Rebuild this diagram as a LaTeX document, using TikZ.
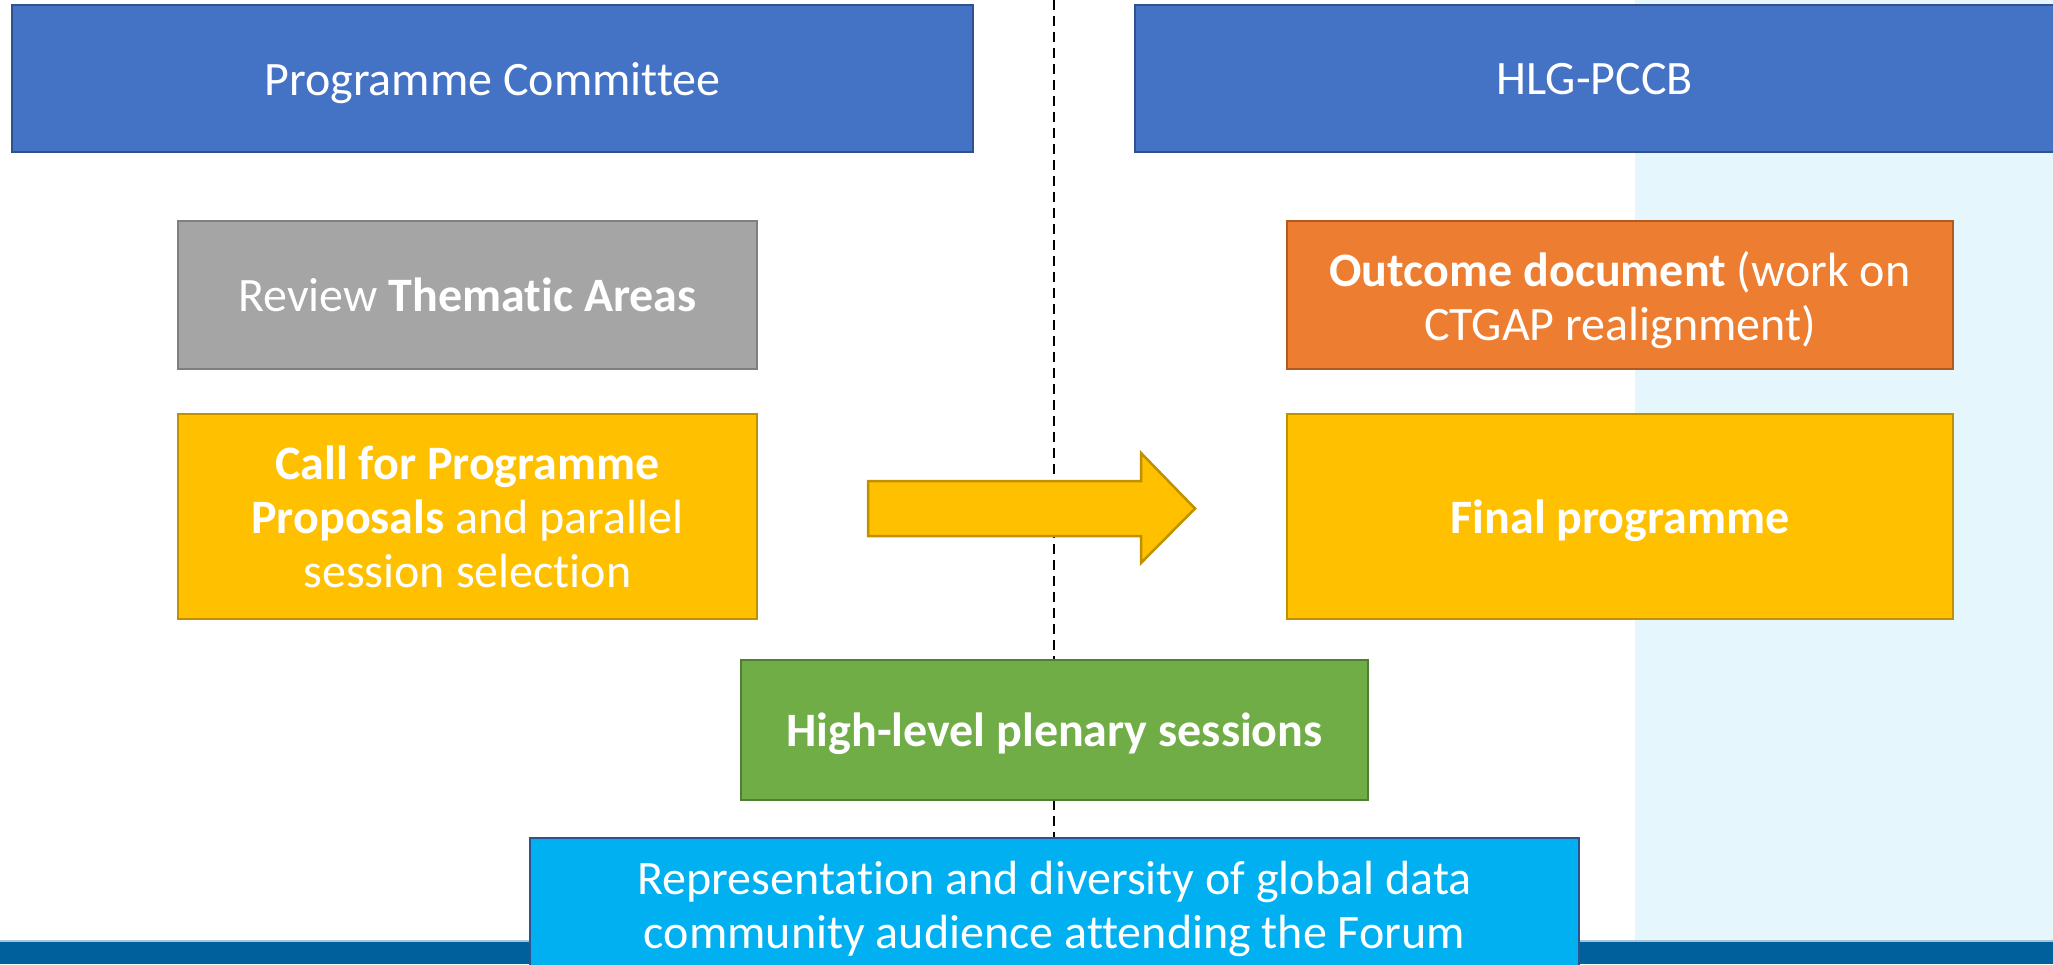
\documentclass[tikz,border=0pt]{standalone}
\usepackage{fontspec}
\setmainfont{Carlito}[Ligatures={NoCommon}]
\definecolor{hdrblue}{HTML}{4472C4}
\definecolor{hdrline}{HTML}{2F528F}
\definecolor{greyfill}{HTML}{A5A5A5}
\definecolor{greyline}{HTML}{7F7F7F}
\definecolor{goldfill}{HTML}{FFC000}
\definecolor{goldline}{HTML}{BF9000}
\definecolor{orangefill}{HTML}{ED7D31}
\definecolor{orangeline}{HTML}{AE5A21}
\definecolor{greenfill}{HTML}{70AD47}
\definecolor{greenline}{HTML}{507E32}
\definecolor{cyanfill}{HTML}{00B0F0}
\definecolor{paleblue}{HTML}{E6F6FD}
\definecolor{stripblue}{HTML}{00609C}
\definecolor{stripedge}{HTML}{A9C4D8}
\begin{document}
\begin{tikzpicture}[x=1pt,y=-1pt,
  box/.style={draw, line width=2.5pt, text=white, align=center, inner sep=0pt,
    font=\fontsize{48}{54}\selectfont},
  oneline/.style={text depth=0pt},
  hdr/.style={box, fill=hdrblue, draw=hdrline},
  greybox/.style={box, fill=greyfill, draw=greyline},
  goldbox/.style={box, fill=goldfill, draw=goldline},
  orangebox/.style={box, fill=orangefill, draw=orangeline},
  greenbox/.style={box, fill=greenfill, draw=greenline},
  cyanbox/.style={box, fill=cyanfill, draw=hdrline},
  divider/.style={draw=black, line width=2pt, dash pattern=on 10pt off 6pt},
  bigarrow/.style={fill=goldfill, draw=goldline, line width=2.5pt, line join=miter}
]
\useasboundingbox (0,0) rectangle (2053,964);
% background regions
\fill[paleblue] (1635,0) rectangle (2053,942);
\fill[stripblue] (0,942) rectangle (2053,964);
\draw[stripedge, line width=2pt] (0,941) -- (2053,941);
% divider
\coordinate (dtop) at (1054,0);
\coordinate (dbot) at (1054,838);
\draw[divider] (dtop) -- (dbot);
% headers
\node[hdr, oneline, minimum width=961pt, minimum height=147pt] (pc) at (492.5,78.5) {Programme Committee};
\node[hdr, oneline, minimum width=920pt, minimum height=147pt] (hlg) at (1595,78.5) {HLG-PCCB};
% left column
\node[greybox, minimum width=579pt, minimum height=148pt] (review) at (467.5,295) {Review \textbf{Thematic Areas}};
\node[goldbox, minimum width=579pt, minimum height=205pt] (call) at (467.5,516.5) {\textbf{Call for Programme}\\\textbf{Proposals} and parallel\\session selection};
% right column
\node[orangebox, minimum width=666pt, minimum height=148pt] (outcome) at (1620,295) {\rule{0pt}{46pt}\textbf{Outcome document} (work on\\CTGAP realignment)};
\node[goldbox, oneline, minimum width=666pt, minimum height=205pt] (final) at (1620,516.5) {\textbf{Final programme}};
% arrow
\draw[bigarrow] (868,481) -- (1141,481) -- (1141,453) -- (1195,508.5) -- (1141,563) -- (1141,536) -- (868,536) -- cycle;
% bottom
\node[greenbox, oneline, minimum width=627pt, minimum height=140pt] (plenary) at (1054.5,730) {\textbf{High-level plenary sessions}};
\node[cyanbox, minimum width=1049pt, minimum height=142pt] (rep) at (1054.5,909) {Representation and diversity of global data\\community audience attending the Forum};
\end{tikzpicture}
\end{document}
